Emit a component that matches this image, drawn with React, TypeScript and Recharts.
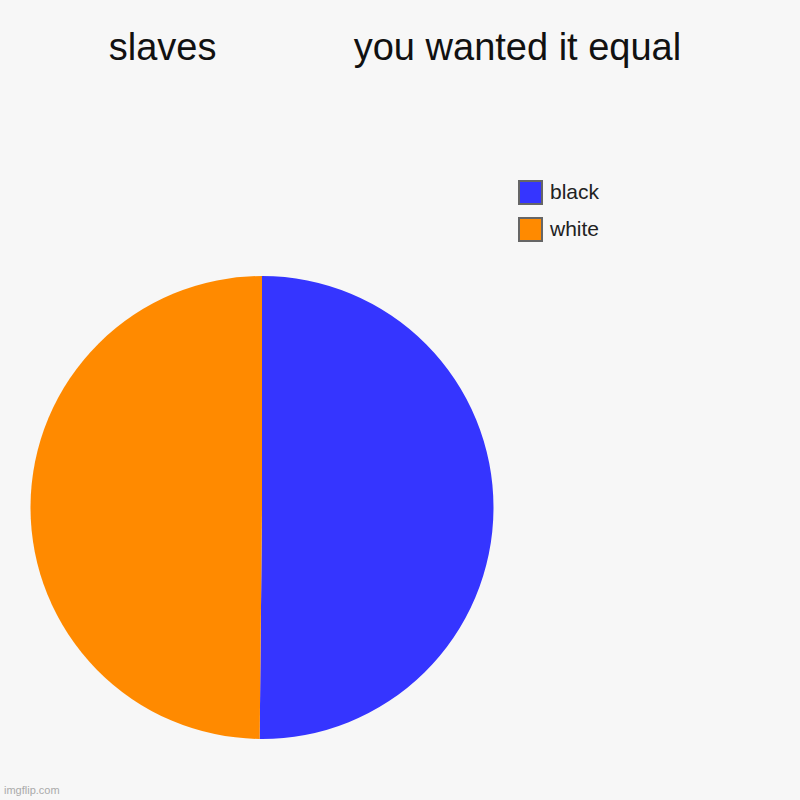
import React from 'react';
import { PieChart, Pie, Cell, Legend } from 'recharts';

const titleText = 'slaves             you wanted it equal';
const categories = ['black', 'white'];
const shares = [50.16, 49.84];
const sliceColors = ['#3535ff', '#ff8a00'];

const data = categories.map((name, i) => ({ name, value: shares[i] }));

const LegendBox: React.FC<any> = ({ payload }) => (
  <div style={{ fontFamily: '"Liberation Sans", Arial, sans-serif' }}>
    {(payload || []).map((entry: any) => (
      <div key={entry.value} style={{ display: 'flex', alignItems: 'center', height: 24, marginBottom: 13 }}>
        <span
          style={{
            display: 'inline-block',
            width: 21,
            height: 21,
            background: entry.color,
            border: '2px solid #666',
            marginRight: 7,
          }}
        />
        <span style={{ fontSize: 21, color: '#222' }}>{entry.value}</span>
      </div>
    ))}
  </div>
);

const App: React.FC = () => {
  return (
    <div style={{ position: 'fixed', left: 0, top: 0, width: 800, height: 800, background: '#f7f7f7' }}>
      <PieChart width={800} height={800} margin={{ top: 0, right: 0, bottom: 0, left: 0 }}>
        <text
          x={395}
          y={59.5}
          textAnchor="middle"
          fontSize={38}
          fill="#111"
          style={{ whiteSpace: 'pre', fontFamily: '"Liberation Sans", Arial, sans-serif' }}
        >
          {titleText}
        </text>
        <Pie
          data={data}
          dataKey="value"
          nameKey="name"
          cx={262}
          cy={507.5}
          outerRadius={231.5}
          startAngle={90}
          endAngle={-270}
          stroke="none"
          isAnimationActive={false}
        >
          {data.map((d, i) => (
            <Cell key={d.name} fill={sliceColors[i]} />
          ))}
        </Pie>
        <Legend
          content={<LegendBox />}
          layout="vertical"
          wrapperStyle={{ position: 'absolute', left: 518, top: 180, width: 150 }}
        />
        <text
          x={4}
          y={794}
          fontSize={11}
          fill="#aaa"
          style={{ fontFamily: '"Liberation Sans", Arial, sans-serif' }}
        >
          imgflip.com
        </text>
      </PieChart>
    </div>
  );
};

export default App;
